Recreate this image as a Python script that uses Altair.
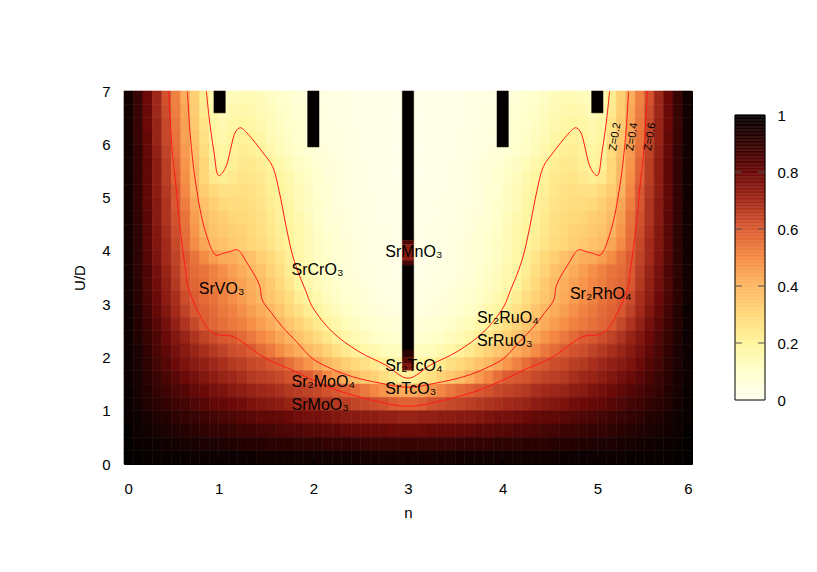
import altair as alt
import pandas as pd

# ---------------- data ----------------
n_centers = [0.05, 0.15, 0.25, 0.35, 0.45, 0.55, 0.65, 0.75, 0.85, 0.95,
             1.05, 1.15, 1.25, 1.35, 1.45, 1.55, 1.65, 1.75, 1.85, 1.95,
             2.05, 2.15, 2.25, 2.35, 2.45, 2.55, 2.65, 2.75, 2.85, 2.95,
             3.05, 3.15, 3.25, 3.35, 3.45, 3.55, 3.65, 3.75, 3.85, 3.95,
             4.05, 4.15, 4.25, 4.35, 4.45, 4.55, 4.65, 4.75, 4.85, 4.95,
             5.05, 5.15, 5.25, 5.35, 5.45, 5.55, 5.65, 5.75, 5.85, 5.95]
u_centers = [6.875, 6.625, 6.375, 6.125, 5.875, 5.625, 5.375, 5.125, 4.875, 4.625,
             4.375, 4.125, 3.875, 3.625, 3.375, 3.125, 2.875, 2.625, 2.375, 2.125,
             1.875, 1.625, 1.375, 1.125, 0.875, 0.625, 0.375, 0.125]

z_rows = [
    [0.97,0.89,0.80,0.71,0.62,0.52,0.42,0.33,0.23,0.16,0.12,0.14,0.15,0.15,0.14,0.12,0.10,0.09,0.07,0.06,0.05,0.04,0.04,0.04,0.03,0.03,0.03,0.03,0.02,0.02,
     0.02,0.02,0.03,0.03,0.03,0.03,0.04,0.04,0.04,0.05,0.06,0.07,0.09,0.10,0.12,0.14,0.15,0.15,0.14,0.12,0.16,0.23,0.33,0.42,0.52,0.62,0.71,0.80,0.89,0.97],
    [0.97,0.89,0.80,0.71,0.63,0.53,0.44,0.34,0.24,0.17,0.14,0.16,0.17,0.16,0.15,0.13,0.11,0.10,0.08,0.07,0.05,0.05,0.04,0.04,0.03,0.03,0.03,0.03,0.02,0.02,
     0.02,0.02,0.03,0.03,0.03,0.03,0.04,0.04,0.05,0.05,0.07,0.08,0.10,0.11,0.13,0.15,0.16,0.17,0.16,0.14,0.17,0.24,0.34,0.44,0.53,0.63,0.71,0.80,0.89,0.97],
    [0.97,0.89,0.80,0.72,0.64,0.54,0.45,0.35,0.26,0.18,0.16,0.18,0.19,0.18,0.16,0.14,0.12,0.10,0.09,0.07,0.06,0.05,0.04,0.04,0.03,0.03,0.03,0.03,0.02,0.02,
     0.02,0.02,0.03,0.03,0.03,0.03,0.04,0.04,0.05,0.06,0.07,0.09,0.10,0.12,0.14,0.16,0.18,0.19,0.18,0.16,0.18,0.26,0.35,0.45,0.54,0.64,0.72,0.80,0.89,0.97],
    [0.97,0.89,0.81,0.72,0.64,0.55,0.45,0.36,0.27,0.19,0.17,0.20,0.21,0.20,0.18,0.15,0.13,0.11,0.09,0.08,0.06,0.05,0.05,0.04,0.04,0.03,0.03,0.03,0.02,0.02,
     0.02,0.02,0.03,0.03,0.03,0.04,0.04,0.05,0.05,0.06,0.08,0.09,0.11,0.13,0.15,0.18,0.20,0.21,0.20,0.17,0.19,0.27,0.36,0.45,0.55,0.64,0.72,0.81,0.89,0.97],
    [0.97,0.90,0.81,0.73,0.65,0.56,0.47,0.38,0.29,0.21,0.19,0.21,0.23,0.22,0.20,0.17,0.14,0.12,0.10,0.08,0.07,0.06,0.05,0.04,0.04,0.03,0.03,0.03,0.02,0.02,
     0.02,0.02,0.03,0.03,0.03,0.04,0.04,0.05,0.06,0.07,0.08,0.10,0.12,0.14,0.17,0.20,0.22,0.23,0.21,0.19,0.21,0.29,0.38,0.47,0.56,0.65,0.73,0.81,0.90,0.97],
    [0.97,0.90,0.82,0.74,0.66,0.58,0.48,0.39,0.31,0.22,0.20,0.22,0.24,0.24,0.22,0.20,0.17,0.14,0.12,0.10,0.08,0.07,0.06,0.05,0.04,0.04,0.03,0.03,0.02,0.02,
     0.02,0.02,0.03,0.03,0.04,0.04,0.05,0.06,0.07,0.08,0.10,0.12,0.14,0.17,0.20,0.22,0.24,0.24,0.22,0.20,0.22,0.31,0.39,0.48,0.58,0.66,0.74,0.82,0.90,0.97],
    [0.97,0.90,0.82,0.74,0.66,0.59,0.49,0.40,0.31,0.24,0.22,0.24,0.26,0.25,0.24,0.21,0.19,0.16,0.13,0.11,0.09,0.07,0.06,0.05,0.04,0.04,0.03,0.03,0.02,0.02,
     0.02,0.02,0.03,0.03,0.04,0.04,0.05,0.06,0.07,0.09,0.11,0.13,0.16,0.19,0.21,0.24,0.25,0.26,0.24,0.22,0.24,0.31,0.40,0.49,0.59,0.66,0.74,0.82,0.90,0.97],
    [0.97,0.90,0.82,0.74,0.67,0.61,0.51,0.41,0.34,0.30,0.27,0.27,0.28,0.27,0.25,0.22,0.20,0.17,0.14,0.12,0.09,0.08,0.06,0.05,0.04,0.04,0.03,0.03,0.03,0.02,
     0.02,0.03,0.03,0.03,0.04,0.04,0.05,0.06,0.08,0.09,0.12,0.14,0.17,0.20,0.22,0.25,0.27,0.28,0.27,0.27,0.30,0.34,0.41,0.51,0.61,0.67,0.74,0.82,0.90,0.97],
    [0.97,0.90,0.82,0.75,0.68,0.61,0.53,0.44,0.37,0.33,0.30,0.29,0.29,0.28,0.26,0.23,0.21,0.18,0.15,0.12,0.10,0.08,0.06,0.05,0.05,0.04,0.04,0.03,0.03,0.02,
     0.02,0.03,0.03,0.04,0.04,0.05,0.05,0.06,0.08,0.10,0.12,0.15,0.18,0.21,0.23,0.26,0.28,0.29,0.29,0.30,0.33,0.37,0.44,0.53,0.61,0.68,0.75,0.82,0.90,0.97],
    [0.97,0.90,0.83,0.75,0.68,0.62,0.55,0.46,0.39,0.35,0.33,0.31,0.30,0.29,0.27,0.24,0.21,0.19,0.16,0.13,0.10,0.08,0.07,0.06,0.05,0.04,0.04,0.03,0.03,0.02,
     0.02,0.03,0.03,0.04,0.04,0.05,0.06,0.07,0.08,0.10,0.13,0.16,0.19,0.21,0.24,0.27,0.29,0.30,0.31,0.33,0.35,0.39,0.46,0.55,0.62,0.68,0.75,0.83,0.90,0.97],
    [0.97,0.91,0.83,0.76,0.69,0.63,0.56,0.48,0.41,0.37,0.35,0.33,0.32,0.30,0.28,0.25,0.22,0.20,0.17,0.14,0.11,0.09,0.08,0.06,0.05,0.05,0.04,0.04,0.03,0.03,
     0.03,0.03,0.04,0.04,0.05,0.05,0.06,0.08,0.09,0.11,0.14,0.17,0.20,0.22,0.25,0.28,0.30,0.32,0.33,0.35,0.37,0.41,0.48,0.56,0.63,0.69,0.76,0.83,0.91,0.97],
    [0.97,0.91,0.83,0.76,0.70,0.64,0.57,0.50,0.44,0.39,0.37,0.35,0.33,0.31,0.29,0.26,0.23,0.20,0.17,0.14,0.12,0.10,0.08,0.07,0.06,0.05,0.04,0.04,0.03,0.03,
     0.03,0.03,0.04,0.04,0.05,0.06,0.07,0.08,0.10,0.12,0.14,0.17,0.20,0.23,0.26,0.29,0.31,0.33,0.35,0.37,0.39,0.44,0.50,0.57,0.64,0.70,0.76,0.83,0.91,0.97],
    [0.97,0.91,0.84,0.77,0.70,0.65,0.60,0.55,0.50,0.46,0.43,0.42,0.40,0.37,0.33,0.30,0.26,0.22,0.18,0.15,0.12,0.10,0.08,0.07,0.06,0.05,0.04,0.04,0.03,0.03,
     0.03,0.03,0.04,0.04,0.05,0.06,0.07,0.08,0.10,0.12,0.15,0.18,0.22,0.26,0.30,0.33,0.37,0.40,0.42,0.43,0.46,0.50,0.55,0.60,0.65,0.70,0.77,0.84,0.91,0.97],
    [0.97,0.91,0.85,0.78,0.72,0.66,0.60,0.57,0.55,0.52,0.49,0.46,0.43,0.40,0.37,0.32,0.28,0.23,0.19,0.16,0.13,0.11,0.09,0.07,0.06,0.05,0.05,0.04,0.03,0.03,
     0.03,0.03,0.04,0.05,0.05,0.06,0.07,0.09,0.11,0.13,0.16,0.19,0.23,0.28,0.32,0.37,0.40,0.43,0.46,0.49,0.52,0.55,0.57,0.60,0.66,0.72,0.78,0.85,0.91,0.97],
    [0.97,0.92,0.85,0.79,0.73,0.67,0.61,0.58,0.56,0.53,0.51,0.48,0.45,0.42,0.39,0.35,0.30,0.25,0.20,0.17,0.14,0.12,0.10,0.08,0.07,0.06,0.05,0.04,0.04,0.03,
     0.03,0.04,0.04,0.05,0.06,0.07,0.08,0.10,0.12,0.14,0.17,0.20,0.25,0.30,0.35,0.39,0.42,0.45,0.48,0.51,0.53,0.56,0.58,0.61,0.67,0.73,0.79,0.85,0.92,0.97],
    [0.97,0.92,0.86,0.80,0.74,0.69,0.63,0.60,0.57,0.55,0.52,0.49,0.46,0.43,0.40,0.36,0.32,0.28,0.23,0.19,0.16,0.13,0.11,0.09,0.08,0.07,0.06,0.05,0.04,0.04,
     0.04,0.04,0.05,0.06,0.07,0.08,0.09,0.11,0.13,0.16,0.19,0.23,0.28,0.32,0.36,0.40,0.43,0.46,0.49,0.52,0.55,0.57,0.60,0.63,0.69,0.74,0.80,0.86,0.92,0.97],
    [0.98,0.93,0.87,0.81,0.76,0.70,0.65,0.61,0.59,0.57,0.54,0.52,0.49,0.46,0.43,0.40,0.36,0.31,0.27,0.23,0.19,0.16,0.13,0.11,0.09,0.08,0.07,0.06,0.05,0.05,
     0.05,0.05,0.06,0.07,0.08,0.09,0.11,0.13,0.16,0.19,0.23,0.27,0.31,0.36,0.40,0.43,0.46,0.49,0.52,0.54,0.57,0.59,0.61,0.65,0.70,0.76,0.81,0.87,0.93,0.98],
    [0.98,0.93,0.88,0.83,0.78,0.73,0.68,0.64,0.60,0.58,0.56,0.54,0.52,0.49,0.46,0.43,0.40,0.36,0.32,0.28,0.24,0.20,0.17,0.14,0.12,0.10,0.09,0.08,0.07,0.06,
     0.06,0.07,0.08,0.09,0.10,0.12,0.14,0.17,0.20,0.24,0.28,0.32,0.36,0.40,0.43,0.46,0.49,0.52,0.54,0.56,0.58,0.60,0.64,0.68,0.73,0.78,0.83,0.88,0.93,0.98],
    [0.98,0.94,0.89,0.85,0.80,0.76,0.72,0.68,0.65,0.63,0.61,0.60,0.57,0.54,0.51,0.48,0.44,0.41,0.37,0.33,0.29,0.25,0.21,0.18,0.15,0.13,0.11,0.10,0.09,0.08,
     0.08,0.09,0.10,0.11,0.13,0.15,0.18,0.21,0.25,0.29,0.33,0.37,0.41,0.44,0.48,0.51,0.54,0.57,0.60,0.61,0.63,0.65,0.68,0.72,0.76,0.80,0.85,0.89,0.94,0.98],
    [0.98,0.95,0.90,0.86,0.82,0.78,0.75,0.72,0.69,0.67,0.65,0.63,0.62,0.60,0.57,0.54,0.50,0.46,0.43,0.39,0.36,0.32,0.28,0.24,0.21,0.18,0.16,0.14,0.13,0.12,
     0.12,0.13,0.14,0.16,0.18,0.21,0.24,0.28,0.32,0.36,0.39,0.43,0.46,0.50,0.54,0.57,0.60,0.62,0.63,0.65,0.67,0.69,0.72,0.75,0.78,0.82,0.86,0.90,0.95,0.98],
    [0.98,0.95,0.91,0.87,0.84,0.80,0.77,0.75,0.73,0.71,0.69,0.67,0.66,0.64,0.63,0.61,0.60,0.56,0.52,0.48,0.44,0.40,0.37,0.33,0.30,0.27,0.24,0.21,0.19,0.18,
     0.18,0.19,0.21,0.24,0.27,0.30,0.33,0.37,0.40,0.44,0.48,0.52,0.56,0.60,0.61,0.63,0.64,0.66,0.67,0.69,0.71,0.73,0.75,0.77,0.80,0.84,0.87,0.91,0.95,0.98],
    [0.98,0.96,0.92,0.89,0.86,0.83,0.80,0.78,0.76,0.74,0.72,0.71,0.69,0.67,0.66,0.65,0.64,0.62,0.61,0.60,0.56,0.51,0.47,0.42,0.38,0.35,0.32,0.28,0.25,0.22,
     0.22,0.25,0.28,0.32,0.35,0.38,0.42,0.47,0.51,0.56,0.60,0.61,0.62,0.64,0.65,0.66,0.67,0.69,0.71,0.72,0.74,0.76,0.78,0.80,0.83,0.86,0.89,0.92,0.96,0.98],
    [0.99,0.96,0.93,0.90,0.88,0.86,0.84,0.82,0.80,0.78,0.77,0.75,0.74,0.72,0.71,0.70,0.69,0.67,0.66,0.65,0.64,0.62,0.61,0.59,0.57,0.54,0.51,0.48,0.45,0.43,
     0.43,0.45,0.48,0.51,0.54,0.57,0.59,0.61,0.62,0.64,0.65,0.66,0.67,0.69,0.70,0.71,0.72,0.74,0.75,0.77,0.78,0.80,0.82,0.84,0.86,0.88,0.90,0.93,0.96,0.99],
    [0.99,0.97,0.94,0.92,0.90,0.88,0.87,0.85,0.84,0.82,0.81,0.80,0.79,0.77,0.76,0.75,0.74,0.72,0.71,0.70,0.69,0.68,0.67,0.66,0.65,0.64,0.63,0.62,0.60,0.59,
     0.59,0.60,0.62,0.63,0.64,0.65,0.66,0.67,0.68,0.69,0.70,0.71,0.72,0.74,0.75,0.76,0.77,0.79,0.80,0.81,0.82,0.84,0.85,0.87,0.88,0.90,0.92,0.94,0.97,0.99],
    [0.99,0.98,0.96,0.94,0.93,0.91,0.90,0.89,0.88,0.87,0.86,0.85,0.84,0.83,0.82,0.82,0.81,0.80,0.79,0.78,0.78,0.77,0.76,0.75,0.75,0.74,0.74,0.73,0.73,0.72,
     0.72,0.73,0.73,0.74,0.74,0.75,0.75,0.76,0.77,0.78,0.78,0.79,0.80,0.81,0.82,0.82,0.83,0.84,0.85,0.86,0.87,0.88,0.89,0.90,0.91,0.93,0.94,0.96,0.98,0.99],
    [1.00,0.98,0.97,0.96,0.95,0.94,0.93,0.92,0.91,0.90,0.90,0.89,0.88,0.88,0.87,0.87,0.86,0.85,0.85,0.84,0.84,0.83,0.83,0.82,0.82,0.81,0.81,0.81,0.80,0.80,
     0.80,0.80,0.81,0.81,0.81,0.82,0.82,0.83,0.83,0.84,0.84,0.85,0.85,0.86,0.87,0.87,0.88,0.88,0.89,0.90,0.90,0.91,0.92,0.93,0.94,0.95,0.96,0.97,0.98,1.00],
    [1.00,0.99,0.98,0.98,0.97,0.97,0.96,0.96,0.95,0.95,0.94,0.94,0.93,0.93,0.93,0.92,0.92,0.92,0.91,0.91,0.91,0.90,0.90,0.90,0.90,0.89,0.89,0.89,0.89,0.89,
     0.89,0.89,0.89,0.89,0.89,0.90,0.90,0.90,0.90,0.91,0.91,0.91,0.92,0.92,0.92,0.93,0.93,0.93,0.94,0.94,0.95,0.95,0.96,0.96,0.97,0.97,0.98,0.98,0.99,1.00],
    [1.00,1.00,0.99,0.99,0.99,0.99,0.99,0.98,0.98,0.98,0.98,0.98,0.98,0.98,0.97,0.97,0.97,0.97,0.97,0.97,0.97,0.97,0.97,0.97,0.97,0.96,0.96,0.96,0.96,0.96,
     0.96,0.96,0.96,0.96,0.96,0.97,0.97,0.97,0.97,0.97,0.97,0.97,0.97,0.97,0.97,0.97,0.98,0.98,0.98,0.98,0.98,0.98,0.98,0.99,0.99,0.99,0.99,0.99,1.00,1.00],
]

# insulating (black) bars at integer fillings: n range, U range, value
bar_n0 = [0.95, 1.94, 2.94, 2.94, 2.94, 2.94, 2.94, 2.94, 2.94, 2.94, 3.94, 4.94]
bar_n1 = [1.07, 2.06, 3.06, 3.06, 3.06, 3.06, 3.06, 3.06, 3.06, 3.06, 4.06, 5.06]
bar_u0 = [6.59, 5.95, 4.20, 4.12, 3.82, 3.73, 2.14, 2.00, 1.88, 1.76, 5.95, 6.59]
bar_u1 = [7.00, 7.00, 7.00, 4.20, 4.12, 3.82, 3.73, 2.14, 2.00, 1.88, 7.00, 7.00]
bar_z = [1.0, 1.0, 1.0, 0.86, 0.74, 0.86, 1.0, 0.92, 0.84, 0.76, 1.0, 1.0]

# contour lines Z = 0.6, 0.4, 0.2
c06_n = [0.47,0.49,0.51,0.55,0.58,0.63,0.65,0.67,0.70,0.79,0.90,1.00,1.11,1.22,1.36,1.53,1.78,1.99,2.24,2.48,2.76,3.00,
         3.24,3.52,3.76,4.01,4.22,4.47,4.64,4.78,4.89,5.00,5.10,5.21,5.30,5.33,5.35,5.37,5.42,5.45,5.49,5.51,5.53]
c06_u = [7.00,6.40,5.86,5.20,4.62,3.90,3.64,3.36,3.20,2.83,2.51,2.42,2.41,2.33,2.14,1.95,1.76,1.58,1.39,1.26,1.14,1.08,
         1.14,1.26,1.39,1.58,1.76,1.95,2.14,2.33,2.41,2.42,2.51,2.83,3.20,3.36,3.64,3.90,4.62,5.20,5.86,6.40,7.00]
c04_n = [0.67,0.70,0.76,0.86,0.97,1.04,1.11,1.20,1.29,1.43,1.46,1.56,1.67,1.83,1.99,2.20,2.41,2.70,3.00,
         3.30,3.59,3.80,4.01,4.17,4.33,4.44,4.54,4.57,4.71,4.80,4.89,4.96,5.03,5.14,5.24,5.30,5.33]
c04_u = [7.00,6.17,5.24,4.36,3.92,3.95,3.98,4.02,3.80,3.36,3.08,2.83,2.58,2.28,1.98,1.78,1.64,1.52,1.44,
         1.52,1.64,1.78,1.98,2.28,2.58,2.83,3.08,3.36,3.80,4.02,3.98,3.95,3.92,4.36,5.24,6.17,7.00]
c02_n = [0.87,0.90,0.95,1.00,1.07,1.18,1.23,1.32,1.46,1.57,1.64,1.71,1.78,1.85,1.92,1.99,2.20,2.48,2.76,3.00,
         3.24,3.52,3.80,4.01,4.08,4.15,4.22,4.29,4.36,4.43,4.54,4.68,4.77,4.82,4.93,5.00,5.05,5.10,5.13]
c02_u = [7.00,6.49,5.86,5.41,5.55,6.24,6.31,6.17,5.86,5.58,5.11,4.48,3.92,3.55,3.25,2.95,2.48,2.11,1.86,1.61,
         1.86,2.11,2.48,2.95,3.25,3.55,3.92,4.48,5.11,5.58,5.86,6.17,6.31,6.24,5.55,5.41,5.86,6.49,7.00]

# material labels
mat_text = ["SrVO₃", "SrCrO₃", "SrMnO₃", "Sr₂MoO₄", "SrMoO₃", "Sr₂TcO₄", "SrTcO₃",
            "Sr₂RuO₄", "SrRuO₃", "Sr₂RhO₄"]
mat_n = [0.79, 1.77, 2.76, 1.77, 1.77, 2.76, 2.76, 3.73, 3.73, 4.71]
mat_u = [3.28, 3.64, 3.98, 1.54, 1.11, 1.84, 1.41, 2.74, 2.31, 3.19]

zlab_text = ["Z=0.2", "Z=0.4", "Z=0.6"]
zlab_n = [5.19, 5.37, 5.56]
zlab_u = [6.14, 6.14, 6.14]

x_ticks = [0, 1, 2, 3, 4, 5, 6]
y_ticks = [0, 1, 2, 3, 4, 5, 6, 7]
cb_ticks = [0, 0.2, 0.4, 0.6, 0.8, 1]

pal_stops = [0, 0.1, 0.2, 0.3, 0.4, 0.5, 0.6, 0.7, 0.8, 0.9, 1.0]
pal_colors = ["#fffff2", "#ffffcc", "#fff59d", "#ffd97a", "#fdb863", "#f58c45",
              "#dc5c32", "#a32a1a", "#6b0a08", "#330303", "#050000"]

# ---------------- tables ----------------
assert len(z_rows) == len(u_centers)
heat_recs = []
for ui, u in enumerate(u_centers):
    row = z_rows[ui]
    assert len(row) == len(n_centers), (ui, len(row))
    for ni, n in enumerate(n_centers):
        heat_recs.append({"n0": n - 0.05, "n1": n + 0.05, "u0": u - 0.125, "u1": u + 0.125, "z": row[ni]})
heat_df = pd.DataFrame(heat_recs)

bar_df = pd.DataFrame({"n0": bar_n0, "n1": bar_n1, "u0": bar_u0, "u1": bar_u1, "z": bar_z})

cont_recs = []
for lev, ns, us in [("0.6", c06_n, c06_u), ("0.4", c04_n, c04_u), ("0.2", c02_n, c02_u)]:
    for i, (a, b) in enumerate(zip(ns, us)):
        cont_recs.append({"level": lev, "i": i, "n0": a, "u0": b})
cont_df = pd.DataFrame(cont_recs)

mat_df = pd.DataFrame({"label": mat_text, "n0": mat_n, "u0": mat_u})
zlab_df = pd.DataFrame({"label": zlab_text, "n0": zlab_n, "u0": zlab_u})
xt_df = pd.DataFrame({"n0": x_ticks[1:-1]})
yt_df = pd.DataFrame({"u0": y_ticks[1:-1]})

# colour-bar strips (the legend of the map)
cb_steps = 200
cb_df = pd.DataFrame({"lo": [i / cb_steps for i in range(cb_steps)],
                      "hi": [(i + 1) / cb_steps for i in range(cb_steps)],
                      "z": [(i + 0.5) / cb_steps for i in range(cb_steps)]})
cb_frame_df = pd.DataFrame({"lo": [cb_ticks[0]], "hi": [cb_ticks[-1]]})
cb_tick_df = pd.DataFrame({"lo": cb_ticks[1:-1]})

FONT = "Liberation Sans"
W, H = 568, 373
CBW, CBH, CB_TOP = 30, 285, 24

x_scale = alt.Scale(domain=[0, 6], nice=False, zero=False)
y_scale = alt.Scale(domain=[0, 7], nice=False, zero=False)
c_scale = alt.Scale(domain=pal_stops, range=pal_colors, interpolate="rgb")
cb_scale = alt.Scale(domain=[0, (CBH + CB_TOP) / CBH], nice=False, zero=False)

x_axis = alt.Axis(values=x_ticks, title="n", tickSize=0, domain=False, grid=False,
                  labelPadding=17, titlePadding=9, labelFontSize=15, titleFontSize=15,
                  labelFont=FONT, titleFont=FONT, titleFontWeight="normal",
                  labelColor="black", titleColor="black", format="d")
y_axis = alt.Axis(values=y_ticks, title="U/D", tickSize=0, domain=False, grid=False,
                  labelPadding=14, titlePadding=14, labelFontSize=15, titleFontSize=15,
                  labelFont=FONT, titleFont=FONT, titleFontWeight="normal",
                  labelColor="black", titleColor="black", format="d")
cb_axis = alt.Axis(values=cb_ticks, title="", orient="right", tickSize=0, domain=False, grid=False,
                   labelPadding=12, labelFontSize=15, labelFont=FONT, labelColor="black", format="~g")


def X(f):
    return alt.X(f, type="quantitative", scale=x_scale, axis=x_axis)


def Y(f):
    return alt.Y(f, type="quantitative", scale=y_scale, axis=y_axis)


def C():
    return alt.Color("z", type="quantitative", scale=c_scale, legend=None)


def S():
    return alt.Stroke("z", type="quantitative", scale=c_scale, legend=None)


heat = alt.Chart(heat_df).mark_rect(strokeWidth=0.6).encode(
    x=X("n0"), x2="n1", y=Y("u0"), y2="u1", color=C(), stroke=S())

bars = alt.Chart(bar_df).mark_rect(strokeWidth=0.5).encode(
    x=X("n0"), x2="n1", y=Y("u0"), y2="u1", color=C(), stroke=S())

contours = alt.Chart(cont_df).mark_line(color="#ff1a1a", strokeWidth=1, interpolate="catmull-rom").encode(
    x=X("n0"), y=Y("u0"), detail="level:N", order="i:Q")

mats = alt.Chart(mat_df).mark_text(align="left", baseline="middle", fontSize=16, font=FONT, color="black").encode(
    x=X("n0"), y=Y("u0"), text="label:N")

zlabs = alt.Chart(zlab_df).mark_text(align="center", baseline="middle", fontSize=11, font=FONT,
                                     color="black", angle=279).encode(
    x=X("n0"), y=Y("u0"), text="label:N")

tick_b = alt.Chart(xt_df).mark_rule(color="black", strokeWidth=1).encode(
    x=X("n0"), y=alt.value(H), y2=alt.value(H - 6))
tick_t = alt.Chart(xt_df).mark_rule(color="black", strokeWidth=1).encode(
    x=X("n0"), y=alt.value(0), y2=alt.value(6))
tick_l = alt.Chart(yt_df).mark_rule(color="black", strokeWidth=1).encode(
    y=Y("u0"), x=alt.value(0), x2=alt.value(6))
tick_r = alt.Chart(yt_df).mark_rule(color="black", strokeWidth=1).encode(
    y=Y("u0"), x=alt.value(W - 6), x2=alt.value(W))

main = alt.layer(heat, bars, contours, mats, zlabs, tick_b, tick_t, tick_l, tick_r).properties(
    width=W, height=H, view=alt.ViewBackground(stroke="black", strokeWidth=1))

cb_y = alt.Y("lo", type="quantitative", scale=cb_scale, axis=cb_axis)
cb_rects = alt.Chart(cb_df).mark_rect(strokeWidth=0.5).encode(
    x=alt.value(0), x2=alt.value(CBW), y=cb_y, y2="hi", color=C(), stroke=S())
cb_frame = alt.Chart(cb_frame_df).mark_rect(fill="transparent", stroke="black", strokeWidth=1).encode(
    x=alt.value(0), x2=alt.value(CBW), y=cb_y, y2="hi")
cb_tl = alt.Chart(cb_tick_df).mark_rule(color="#555555", strokeWidth=1).encode(
    y=cb_y, x=alt.value(0), x2=alt.value(7))
cb_tr = alt.Chart(cb_tick_df).mark_rule(color="#555555", strokeWidth=1).encode(
    y=cb_y, x=alt.value(CBW - 7), x2=alt.value(CBW))
cbar = alt.layer(cb_rects, cb_frame, cb_tl, cb_tr).properties(
    width=CBW, height=CBH + CB_TOP, view=alt.ViewBackground(stroke="transparent", strokeWidth=0))

chart = alt.hconcat(main, cbar, spacing=41).properties(
    autosize=alt.AutoSizeParams(type="pad"),
    padding={"left": 64, "top": 75, "right": 10, "bottom": 10},
).configure(background="white")

chart.save("out.html", embed_options={"renderer": "svg", "actions": False})
